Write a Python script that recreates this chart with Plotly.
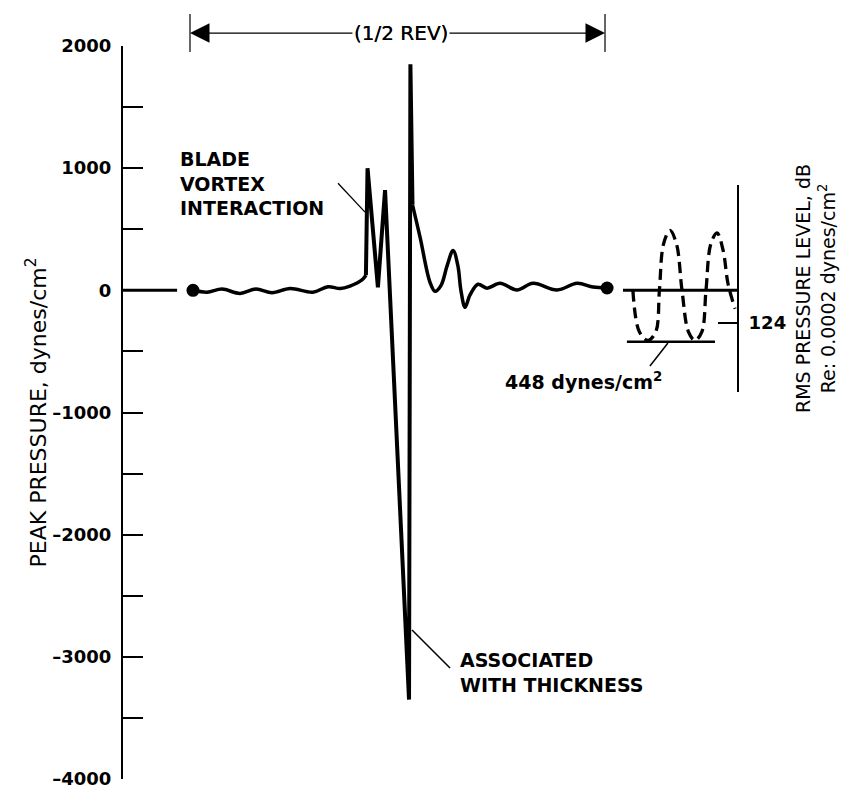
import plotly.graph_objects as go

# ---------------- data (azimuth in degrees, pressure in dynes/cm^2) ----------------
# waveform before the blade-vortex interaction (smooth wiggle)
pre_psi = [1.3, 7.4, 13.9, 21.7, 28.6, 35.6, 43.4, 53.3, 59.9, 65.1, 69.4, 74.6, 76.3]
pre_p = [0, -15, 10, -25, 10, -20, 15, -15, 30, 15, 35, 85, 123]

# sharp spikes (BVI + thickness pulse)
spike_psi = [76.3, 77.0, 81.5, 84.6, 95.0, 95.6, 96.5]
spike_p = [123, 1000, 25, 820, -3350, 1850, 700]

# decaying ringing after the thickness pulse
post_psi = [96.5, 99.8, 104.1, 106.3, 108.9, 111.5, 114.1, 116.2, 117.5, 119.3, 121.4,
            124.9, 128.8, 134.5, 141.8, 148.8, 159.2, 167.9, 174.8, 180.9]
post_p = [700, 434, 66, -8, 41, 200, 327, 200, 0, -139, -40,
          50, 18, 57, 3, 57, 3, 57, 27, 19]

# end points of the half revolution (dots)
dot_psi = [1.3, 180.9]
dot_p = [0, 19]

# equivalent sinusoid (dashed)
sine_psi = [192.1, 194.9, 198.6, 202.0, 203.6, 205.4, 208.2, 211.0, 213.4,
            216.2, 219.0, 222.0, 223.8, 225.9, 228.6, 231.2, 233.4, 236.4]
sine_p = [0, -340, -410, -340, 0, 380, 490, 380, 0,
          -340, -410, -340, 0, 380, 470, 330, 50, -150]

rms_amplitude_label = "448 dynes/cm<sup>2</sup>"
rms_level_db = [124]

y_tickvals = [-4000, -3000, -2000, -1000, 0, 1000, 2000]
y_ticktext = ["\u20134000", "\u20133000", "\u20132000", "\u20131000", "0", "1000", "2000"]
y_minor_tickvals = [-3500, -2500, -1500, -500, 500, 1500]

FONT = "DejaVu Sans"
BLACK = "#000000"

X_RANGE = [-29.06, 237.25]

fig = go.Figure()

# zero reference stubs
fig.add_trace(go.Scatter(x=[X_RANGE[0], -5.6], y=[0, 0], mode="lines",
                         line=dict(color=BLACK, width=3), hoverinfo="skip", showlegend=False))
fig.add_trace(go.Scatter(x=[187.8, X_RANGE[1]], y=[0, 0], mode="lines",
                         line=dict(color=BLACK, width=3), hoverinfo="skip", showlegend=False))
# 448 level line
fig.add_trace(go.Scatter(x=[189.5, 227.7], y=[-420, -420], mode="lines",
                         line=dict(color=BLACK, width=2.5), hoverinfo="skip", showlegend=False))

# waveform
fig.add_trace(go.Scatter(x=pre_psi, y=pre_p, mode="lines",
                         line=dict(color=BLACK, width=3.5, shape="spline", smoothing=1.0),
                         showlegend=False))
fig.add_trace(go.Scatter(x=spike_psi, y=spike_p, mode="lines",
                         line=dict(color=BLACK, width=4), showlegend=False))
fig.add_trace(go.Scatter(x=post_psi, y=post_p, mode="lines",
                         line=dict(color=BLACK, width=3.5, shape="spline", smoothing=1.0),
                         showlegend=False))
fig.add_trace(go.Scatter(x=dot_psi, y=dot_p, mode="markers",
                         marker=dict(color=BLACK, size=13), showlegend=False))

# dashed sinusoid
fig.add_trace(go.Scatter(x=sine_psi, y=sine_p, mode="lines",
                         line=dict(color=BLACK, width=3.3, dash="11px,6px", shape="spline", smoothing=1.0),
                         showlegend=False))

# invisible trace on the RMS axis so that the axis is built
fig.add_trace(go.Scatter(x=[X_RANGE[1]], y=rms_level_db, yaxis="y2", mode="markers",
                         marker=dict(size=1, opacity=0), hoverinfo="skip", showlegend=False))

# leader lines
fig.add_trace(go.Scatter(x=[64.2, 75.9], y=[877, 640], mode="lines",
                         line=dict(color=BLACK, width=1.3), hoverinfo="skip", showlegend=False))
fig.add_trace(go.Scatter(x=[96.3, 112.8], y=[-2780, -3091], mode="lines",
                         line=dict(color=BLACK, width=1.5), hoverinfo="skip", showlegend=False))
fig.add_trace(go.Scatter(x=[207.3, 199.5], y=[-431, -620], mode="lines",
                         line=dict(color=BLACK, width=1.5), hoverinfo="skip", showlegend=False))

# half-revolution bracket
fig.add_shape(type="line", xref="x", yref="paper", x0=0, x1=0, y0=0.9918, y1=1.0437,
              line=dict(color=BLACK, width=1.2))
fig.add_shape(type="line", xref="x", yref="paper", x0=180, x1=180, y0=0.9918, y1=1.0437,
              line=dict(color=BLACK, width=1.2))
for tip in (0, 180):
    fig.add_annotation(x=tip, y=1.0177, xref="x", yref="paper",
                       ax=91.5, ay=0, axref="x", ayref="pixel",
                       text="(1/2 REV)", showarrow=True, arrowhead=2, arrowsize=3,
                       arrowwidth=1.3, arrowcolor=BLACK,
                       font=dict(family=FONT, size=20, color=BLACK))

fig.add_annotation(x=-5.2, y=877, xref="x", yref="y", xanchor="left", yanchor="middle",
                   align="left", showarrow=False,
                   text="BLADE<br>VORTEX<br>INTERACTION",
                   font=dict(family=FONT, size=19, color=BLACK, weight="bold"))
fig.add_annotation(x=116.2, y=-3125, xref="x", yref="y", xanchor="left", yanchor="middle",
                   align="left", showarrow=False,
                   text="ASSOCIATED<br>WITH THICKNESS",
                   font=dict(family=FONT, size=19, color=BLACK, weight="bold"))
fig.add_annotation(x=170.5, y=-740, xref="x", yref="y", xanchor="center", yanchor="middle",
                   showarrow=False, text=rms_amplitude_label,
                   font=dict(family=FONT, size=19, color=BLACK, weight="bold"))

fig.update_layout(
    width=842, height=795,
    margin=dict(l=123, r=105, t=46, b=16, autoexpand=False),
    paper_bgcolor="white", plot_bgcolor="rgba(0,0,0,0)",
    xaxis=dict(range=X_RANGE, visible=False, fixedrange=True),
    yaxis=dict(range=[-4000, 2000], tickmode="array", tickvals=y_tickvals, ticktext=y_ticktext,
               ticks="inside", ticklen=20, tickwidth=2, tickcolor=BLACK,
               minor=dict(tickmode="array", tickvals=y_minor_tickvals, ticks="inside",
                          ticklen=20, tickwidth=2, tickcolor=BLACK, showgrid=False),
               showline=True, linewidth=2, linecolor=BLACK, showgrid=False, zeroline=False,
               ticklabelstandoff=6,
               tickfont=dict(family=FONT, size=18, color=BLACK, weight="bold"),
               title=dict(text="PEAK PRESSURE, dynes/cm<sup>2</sup>", standoff=0,
                          font=dict(family=FONT, size=22, color=BLACK)),
               fixedrange=True),
    yaxis2=dict(domain=[0.528, 0.8104], anchor="x", side="right", range=[118, 136],
                tickvals=rms_level_db, ticktext=[str(v) for v in rms_level_db],
                ticks="inside", ticklen=19, tickwidth=2, tickcolor=BLACK,
                showline=True, linewidth=2, linecolor=BLACK, showgrid=False, zeroline=False,
                ticklabelstandoff=6,
                tickfont=dict(family=FONT, size=18, color=BLACK, weight="bold"),
                title=dict(text="RMS PRESSURE LEVEL, dB<br>Re: 0.0002 dynes/cm<sup>2</sup>",
                           standoff=12, font=dict(family=FONT, size=19, color=BLACK)),
                fixedrange=True),
)

fig.write_html("out.html")
